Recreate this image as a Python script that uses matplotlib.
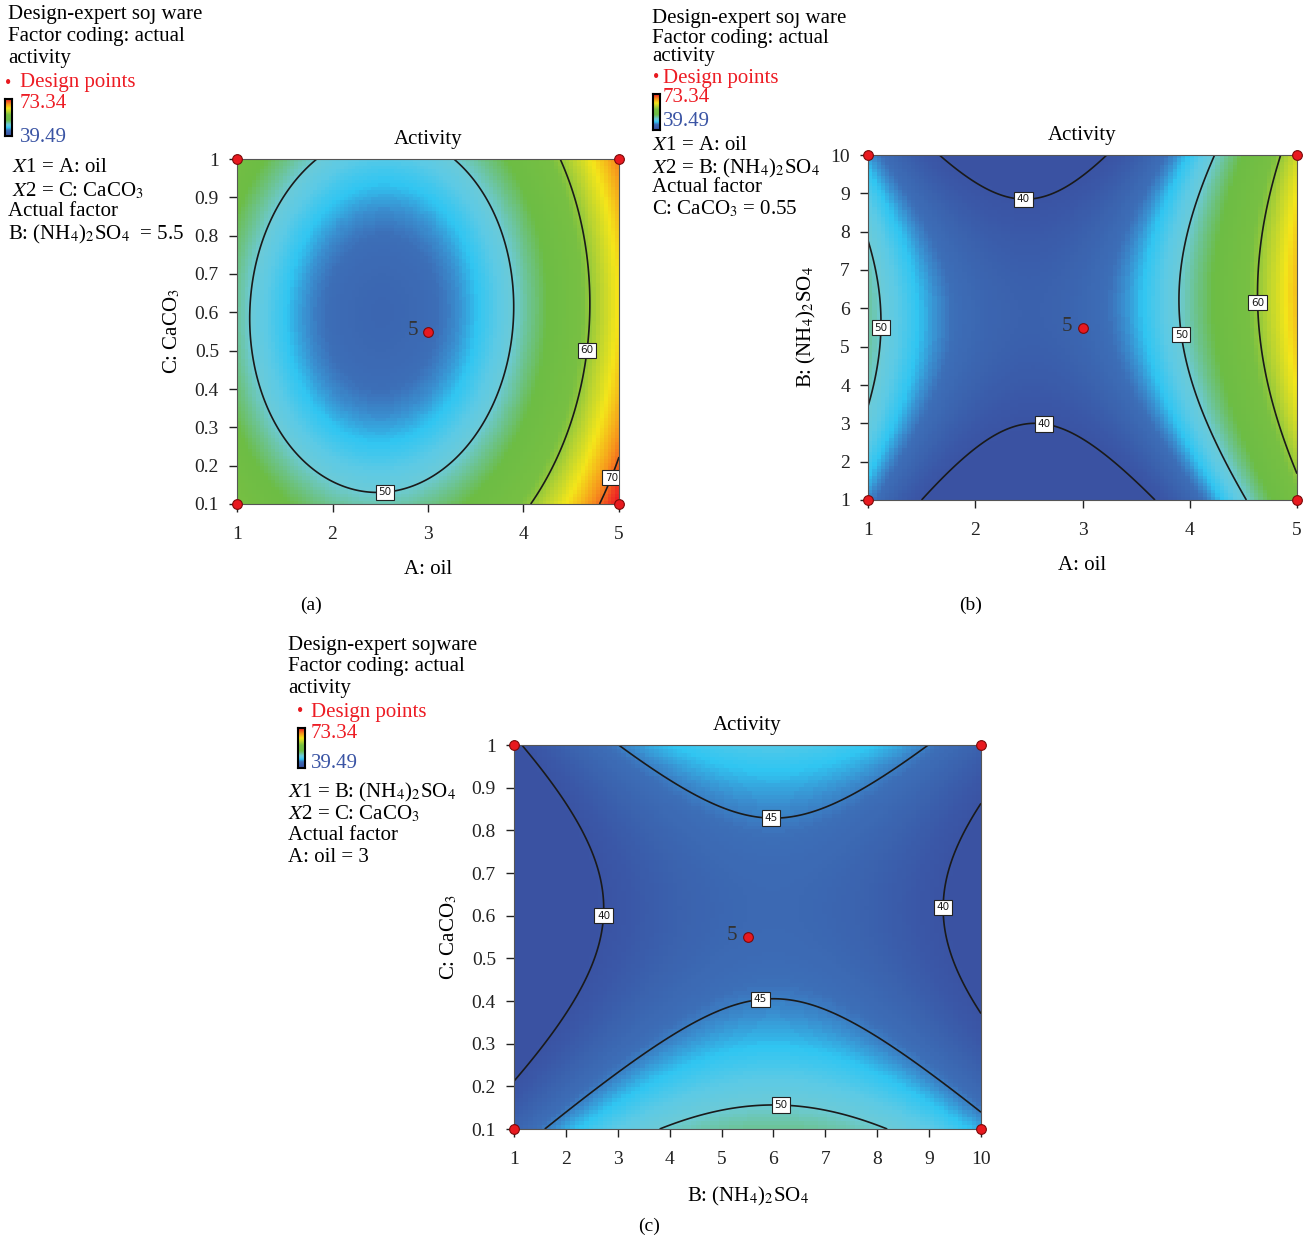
import matplotlib
matplotlib.use("Agg")

import numpy as np
import matplotlib.pyplot as plt
from matplotlib.colors import LinearSegmentedColormap

plt.rcParams["font.family"] = ["Liberation Serif", "DejaVu Serif"]
plt.rcParams["mathtext.fontset"] = "stix"

W, H = 1309, 1238

RESP_MIN = 39.49
RESP_MAX = 73.34

# quadratic models in coded units (-1..1): b0, bx, by, bxx, byy, bxy
COEF_A = [44.19, 6.9, -1.5, 14.1, 6.2, -0.6]
COEF_B = [43.35, 7.49, 1.38, 15.5, -5.9, 1.1]
COEF_C = [43.71, 1.54, -1.80, -6.93, 6.05, 0.0]

OIL_RANGE = [1, 5]
NH4_RANGE = [1, 10]
CACO3_RANGE = [0.1, 1.0]

OIL_TICKS = [1, 2, 3, 4, 5]
NH4_TICKS = [1, 2, 3, 4, 5, 6, 7, 8, 9, 10]
CACO3_TICKS = [0.1, 0.2, 0.3, 0.4, 0.5, 0.6, 0.7, 0.8, 0.9, 1.0]
CACO3_LABELS = ["0.1", "0.2", "0.3", "0.4", "0.5", "0.6", "0.7", "0.8", "0.9", "1"]

LEVELS_A = [50, 60, 70]
LEVELS_B = [40, 50, 60]
LEVELS_C = [40, 45, 50]

POINTS_A_X = [1, 1, 5, 5, 3]
POINTS_A_Y = [0.1, 1.0, 0.1, 1.0, 0.55]
POINTS_B_X = [1, 1, 5, 5, 3]
POINTS_B_Y = [1, 10, 1, 10, 5.5]
POINTS_C_X = [1, 1, 10, 10, 5.5]
POINTS_C_Y = [0.1, 1.0, 0.1, 1.0, 0.55]
CENTER_REPS = "5"

# Design-Expert like palette
CMAP_VALUES = [39.49, 41, 42.5, 44.5, 45.5, 46.8, 48.5, 50, 52, 54, 59, 62, 65, 69, 73.34]
CMAP_COLORS = ["#3a52a2", "#3a58a8", "#3b62ae", "#3d6fb8", "#3a8fd0", "#30c6f2", "#5ccae6",
               "#6ccbd8", "#6cc38a", "#6dbd45", "#78c043", "#b9d432", "#f4e61a", "#f7941d",
               "#ed1c24"]

stops = [(v - RESP_MIN) / (RESP_MAX - RESP_MIN) for v in CMAP_VALUES]
cmap = LinearSegmentedColormap.from_list("dx", list(zip(stops, CMAP_COLORS)))


def surface(coef, xr, yr, n):
    x = np.linspace(xr[0], xr[1], n)
    y = np.linspace(yr[0], yr[1], n)
    X, Y = np.meshgrid(x, y)
    u = (X - (xr[0] + xr[1]) / 2) / ((xr[1] - xr[0]) / 2)
    v = (Y - (yr[0] + yr[1]) / 2) / ((yr[1] - yr[0]) / 2)
    b0, bx, by, bxx, byy, bxy = coef
    Z = b0 + bx * u + by * v + bxx * u ** 2 + byy * v ** 2 + bxy * u * v
    return X, Y, Z


def px_axes(fig, left, top, right, bottom):
    return fig.add_axes([left / W, 1 - bottom / H, (right - left) / W, (bottom - top) / H])


def ftext(fig, px, py, s, **kw):
    kw.setdefault("fontsize", 15)
    kw.setdefault("va", "center")
    kw.setdefault("ha", "left")
    fig.text(px / W, 1 - py / H, s, **kw)


def draw_panel(ax, coef, xr, yr, levels, label_pos, px_, py_, xticks, yticks, ylabels, xlabel, ylabel):
    _, _, Zc = surface(coef, xr, yr, 100)
    ax.imshow(Zc, origin="lower", extent=[xr[0], xr[1], yr[0], yr[1]], aspect="auto",
              cmap=cmap, vmin=RESP_MIN, vmax=RESP_MAX, interpolation="nearest")
    X, Y, Z = surface(coef, xr, yr, 400)
    cs = ax.contour(X, Y, Z, levels=levels, colors="#1a1a1a", linewidths=1.2)
    labels = ax.clabel(cs, fmt="%d", manual=label_pos, inline=False, fontsize=7.5)
    for t in labels:
        t.set_rotation(0)
        t.set_family("DejaVu Sans")
        t.set_bbox(dict(boxstyle="square,pad=0.25", fc="white", ec="#222222", lw=0.8))
    ax.plot(px_, py_, "o", ms=7, mfc="#e8191f", mec="#7a0a0a", mew=0.8, clip_on=False, zorder=5)
    ax.annotate(CENTER_REPS, (px_[-1], py_[-1]), xytext=(-11, 1), textcoords="offset points",
                ha="center", va="center", fontsize=15, color="#333333")
    ax.set_xlim(xr)
    ax.set_ylim(yr)
    ax.set_xticks(xticks)
    ax.set_yticks(yticks)
    ax.set_yticklabels(ylabels)
    ax.tick_params(direction="out", length=6, width=1, pad=7, labelsize=14, colors="#222222")
    ax.tick_params(axis="x", pad=10)
    for s in ax.spines.values():
        s.set_color("#555555")
    ax.set_title("Activity", fontsize=15, pad=11)
    ax.set_xlabel(xlabel, fontsize=15, labelpad=12)
    ax.set_ylabel(ylabel, fontsize=15, labelpad=9)


def legend_block(fig, x, ys, head, dot, bar, factors):
    for y, s in zip(ys, head):
        ftext(fig, x, y, s)
    fig.text(dot[0] / W, 1 - dot[1] / H, "\u2022", color="#e8191f", fontsize=13, va="center", ha="center")
    ftext(fig, dot[2], dot[1], "Design points", color="#ed1c24")
    cax = px_axes(fig, bar[0], bar[1], bar[0] + 7, bar[2])
    cax.imshow(np.linspace(1, 0, 64).reshape(-1, 1), aspect="auto", cmap=cmap, vmin=0, vmax=1)
    cax.set_xticks([])
    cax.set_yticks([])
    for s in cax.spines.values():
        s.set_linewidth(1.5)
    ftext(fig, bar[3], bar[4], "73.34", color="#ed1c24")
    ftext(fig, bar[3], bar[5], "39.49", color="#3a54a4")
    for (fx, fy, s) in factors:
        ftext(fig, fx, fy, s)


fig = plt.figure(figsize=(W / 100, H / 100), dpi=100)

NH4 = r"(NH$_4$)$_2$SO$_4$"
CACO3 = r"CaCO$_3$"

ax_a = px_axes(fig, 237, 159, 619, 504)
draw_panel(ax_a, COEF_A, OIL_RANGE, CACO3_RANGE, LEVELS_A,
           [(2.55, 0.13), (4.7, 0.5), (4.9, 0.17)],
           POINTS_A_X, POINTS_A_Y, OIL_TICKS, CACO3_TICKS, CACO3_LABELS,
           "A: oil", "C: " + CACO3)

ax_b = px_axes(fig, 868, 155, 1297, 500)
draw_panel(ax_b, COEF_B, OIL_RANGE, NH4_RANGE, LEVELS_B,
           [(2.45, 8.95), (2.65, 3.1), (1.12, 5.5), (3.9, 5.3), (4.62, 6.15)],
           POINTS_B_X, POINTS_B_Y, OIL_TICKS, NH4_TICKS, [str(t) for t in NH4_TICKS],
           "A: oil", "B: " + NH4)

ax_c = px_axes(fig, 514, 745, 981, 1129)
draw_panel(ax_c, COEF_C, NH4_RANGE, CACO3_RANGE, LEVELS_C,
           [(5.95, 0.84), (5.75, 0.4), (6.15, 0.165), (2.75, 0.6), (9.3, 0.62)],
           POINTS_C_X, POINTS_C_Y, NH4_TICKS, CACO3_TICKS, CACO3_LABELS,
           "B: " + NH4, "C: " + CACO3)

legend_block(fig, 8, [14, 36, 59],
             ["Design-expert so\u0237 ware", "Factor coding: actual", "activity"],
             (8, 83, 20), (5, 99, 136, 20, 104, 137),
             [(12, 167, r"$X$1 = A: oil"), (12, 191, r"$X$2 = C: " + CACO3),
              (8, 211, "Actual factor"), (8, 234, "B: " + NH4 + "  = 5.5")])

legend_block(fig, 652, [18, 38, 57],
             ["Design-expert so\u0237 ware", "Factor coding: actual", "activity"],
             (656, 78, 663), (653, 94, 130, 663, 97, 122),
             [(652, 146, r"$X$1 = A: oil"), (652, 168, r"$X$2 = B: " + NH4),
              (652, 188, "Actual factor"), (652, 209, "C: " + CACO3 + " = 0.55")])

legend_block(fig, 288, [645, 667, 689],
             ["Design-expert so\u0237ware", "Factor coding: actual", "activity"],
             (300, 712, 311), (298, 728, 768, 311, 733, 763),
             [(288, 792, r"$X$1 = B: " + NH4), (288, 814, r"$X$2 = C: " + CACO3),
              (288, 835, "Actual factor"), (288, 857, "A: oil = 3")])

ftext(fig, 311, 605, "(a)", ha="center", fontsize=14)
ftext(fig, 971, 605, "(b)", ha="center", fontsize=14)
ftext(fig, 649, 1226, "(c)", ha="center", fontsize=14)

fig.savefig("out.png", dpi=100)
plt.close(fig)
